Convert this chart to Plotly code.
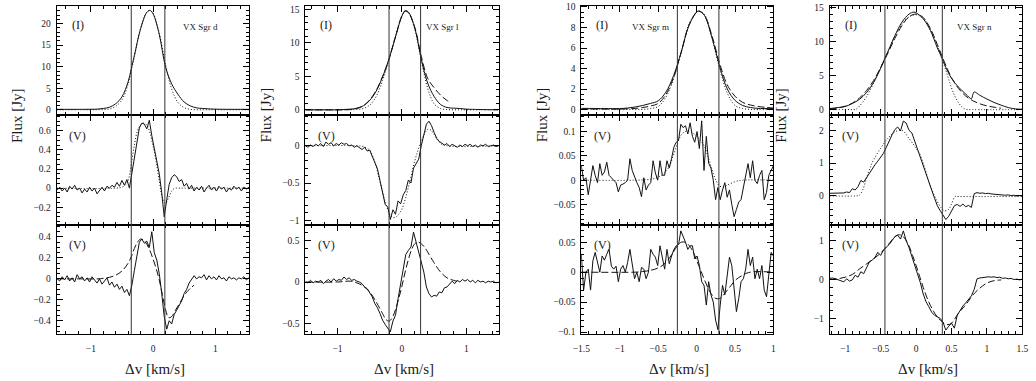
import numpy as np
import plotly.graph_objects as go
from plotly.subplots import make_subplots

# ======================= DATA =======================
# ---------- VX Sgr d ----------
d_vlines = [-0.35, 0.19]
d_I_v = [-1.55, -1.4, -1.2, -1.0, -0.9, -0.8, -0.7, -0.6, -0.5, -0.4, -0.35, -0.3, -0.2, -0.1, -0.05,
         0.0, 0.1, 0.2, 0.3, 0.4, 0.5, 0.6, 0.7, 0.8, 0.9, 1.0, 1.2, 1.4, 1.55]
d_I_obs = [0.1, 0.1, 0.1, 0.12, 0.15, 0.3, 0.6, 1.4, 3.0, 6.5, 9.5, 12.6, 18.8, 22.6, 23.1,
           22.3, 17.5, 10.0, 6.0, 3.6, 1.8, 0.9, 0.45, 0.3, 0.2, 0.15, 0.1, 0.1, 0.1]
d_I_dot = [0, 0, 0, 0, 0, 0.05, 0.2, 0.8, 2.3, 6.0, 9.2, 12.3, 18.9, 22.7, 23.0,
           22.4, 17.8, 10.5, 4.8, 1.7, 0.5, 0.1, 0, 0, 0, 0, 0, 0, 0]
d_chan = np.linspace(-1.54, 1.54, 78)
d_V2_obs = [-0.02, 0.01, -0.03, 0.00, -0.04, 0.02, -0.01, 0.03, -0.02, 0.00,
            -0.05, -0.01, -0.04, 0.01, -0.03, 0.00, -0.06, -0.02, 0.01, -0.03,
            0.02, 0.00, 0.03, 0.01, 0.06, 0.02, 0.08, 0.03, 0.09, 0.00,
            0.17, 0.33, 0.48, 0.63, 0.68, 0.67, 0.62, 0.71, 0.55, 0.42,
            0.30, 0.15, -0.05, -0.30, -0.12, 0.04, 0.11, 0.14, 0.12, 0.07,
            0.09, 0.02, 0.05, -0.01, 0.03, -0.03, 0.01, -0.02, 0.02, -0.04,
            0.00, 0.03, -0.02, 0.01, -0.03, 0.02, -0.01, 0.01, -0.04, 0.00,
            -0.02, 0.02, -0.01, 0.01, -0.03, 0.01, -0.01, 0.01]
d_V2_dot_v = [-1.55, -0.6, -0.5, -0.45, -0.4, -0.35, -0.3, -0.25, -0.2, -0.15, -0.1, -0.05,
              0.0, 0.05, 0.1, 0.15, 0.2, 0.25, 0.3, 0.35, 0.4, 0.5, 1.55]
d_V2_dot = [0, 0, 0.01, 0.03, 0.08, 0.25, 0.45, 0.6, 0.66, 0.68, 0.66, 0.58,
            0.44, 0.28, 0.08, -0.1, -0.16, -0.1, -0.03, 0.0, 0.0, 0.0, 0.0]
d_V3_obs = [0.00, -0.02, 0.02, -0.01, 0.03, -0.02, 0.01, -0.03, 0.04, 0.00,
            0.02, -0.02, 0.01, -0.03, 0.02, -0.01, -0.04, 0.00, -0.05, -0.02,
            0.01, -0.06, -0.03, -0.08, -0.05, -0.10, -0.07, -0.13, -0.10, -0.16,
            -0.06, 0.08, 0.20, 0.35, 0.38, 0.34, 0.36, 0.30, 0.45, 0.25,
            0.18, 0.05, -0.14, -0.36, -0.48, -0.40, -0.43, -0.34, -0.30, -0.26,
            -0.21, -0.14, -0.10, -0.04, -0.01, 0.03, 0.00, 0.02, 0.01, 0.04,
            -0.01, 0.03, 0.00, 0.02, -0.01, 0.03, 0.00, 0.01, -0.02, 0.02,
            0.00, 0.01, -0.01, 0.01, 0.00, 0.02, -0.01, 0.01]
d_V3_dash_v = [-1.55, -1.2, -0.9, -0.8, -0.7, -0.6, -0.5, -0.4, -0.35, -0.3, -0.25, -0.2, -0.15,
               -0.1, -0.05, 0.0, 0.05, 0.1, 0.15, 0.2, 0.25, 0.3, 0.35, 0.4, 0.45, 0.5, 0.55, 0.6, 0.66]
d_V3_dash = [0, 0, 0, 0.005, 0.015, 0.035, 0.075, 0.15, 0.21, 0.29, 0.35, 0.38, 0.37,
             0.33, 0.27, 0.19, 0.1, -0.01, -0.15, -0.29, -0.37, -0.36, -0.31, -0.26, -0.21, -0.16, -0.12, -0.09, -0.06]

# ---------- VX Sgr l ----------
l_vlines = [-0.2, 0.29]
l_I_v = [-1.5, -1.2, -1.0, -0.9, -0.8, -0.7, -0.6, -0.5, -0.4, -0.3, -0.2, -0.1, 0.0, 0.05, 0.1,
         0.2, 0.3, 0.4, 0.5, 0.6, 0.7, 0.8, 0.9, 1.0, 1.2, 1.5]
l_I_obs = [0, 0, 0, 0.05, 0.1, 0.25, 0.6, 1.4, 2.8, 4.9, 7.6, 10.9, 14.0, 14.8, 14.6,
           12.2, 7.6, 4.0, 2.0, 0.8, 0.35, 0.25, 0.2, 0.1, 0.05, 0]
l_I_dot = [0, 0, 0, 0, 0, 0.05, 0.2, 0.7, 2.0, 4.4, 7.5, 11.0, 14.1, 14.7, 14.5,
           12.0, 7.4, 3.2, 0.9, 0.2, 0.05, 0, 0, 0, 0, 0]
l_I_dash_v = [-1.5, -1.0, -0.9, -0.8, -0.7, -0.6, -0.5, -0.4, -0.3, -0.2, -0.1, 0.0, 0.05, 0.1,
              0.2, 0.3, 0.4, 0.5, 0.6, 0.7, 0.74]
l_I_dash = [0, 0, 0, 0.05, 0.2, 0.6, 1.5, 2.9, 5.0, 7.6, 10.9, 14.0, 14.7, 14.5,
            12.3, 8.0, 4.7, 3.3, 2.2, 1.4, 1.2]
l_chan = np.linspace(-1.5, 1.5, 76)
l_V2_obs = [0.00, -0.02, 0.01, -0.01, 0.02, 0.00, 0.03, -0.01, 0.05, 0.02,
            0.04, 0.00, 0.03, 0.01, 0.04, 0.02, 0.03, 0.00, 0.01, -0.02,
            0.00, -0.03, -0.05, -0.02, -0.07, -0.06, -0.14, -0.24, -0.31, -0.47,
            -0.62, -0.79, -0.82, -0.99, -0.86, -0.92, -0.74, -0.78, -0.66, -0.60,
            -0.46, -0.50, -0.30, -0.24, -0.18, 0.00, 0.15, 0.29, 0.33, 0.27,
            0.18, 0.10, 0.06, 0.03, 0.01, 0.03, -0.01, 0.02, 0.00, -0.02,
            0.01, -0.01, 0.02, 0.00, 0.02, -0.01, 0.01, -0.02, 0.01, 0.00,
            0.02, -0.01, 0.00, 0.01, -0.01, 0.00]
l_V2_dot_v = [-1.5, -0.7, -0.6, -0.5, -0.45, -0.4, -0.35, -0.3, -0.25, -0.2, -0.15, -0.1, -0.05,
              0.0, 0.05, 0.1, 0.15, 0.2, 0.25, 0.3, 0.35, 0.4, 0.45, 0.5, 0.55, 0.6, 0.7, 1.5]
l_V2_dot = [0, 0, -0.01, -0.06, -0.15, -0.28, -0.45, -0.62, -0.78, -0.9, -0.96, -0.96, -0.92,
            -0.85, -0.72, -0.56, -0.38, -0.2, -0.06, 0.06, 0.16, 0.22, 0.21, 0.15, 0.08, 0.03, 0.0, 0.0]
l_V3_obs = [0.00, -0.01, 0.02, -0.01, 0.01, 0.00, 0.02, -0.02, 0.01, 0.03,
            0.00, 0.04, 0.01, 0.03, 0.02, 0.06, 0.03, 0.05, 0.02, 0.03,
            0.01, 0.00, -0.02, -0.06, -0.08, -0.13, -0.18, -0.26, -0.31, -0.38,
            -0.46, -0.51, -0.55, -0.60, -0.47, -0.40, -0.20, -0.03, 0.14, 0.33,
            0.38, 0.42, 0.60, 0.48, 0.36, 0.27, 0.12, -0.06, -0.14, -0.18,
            -0.16, -0.17, -0.12, -0.13, -0.07, -0.06, -0.02, 0.01, -0.02, 0.02,
            0.00, 0.03, 0.01, 0.03, 0.00, 0.02, -0.01, 0.02, 0.00, 0.01,
            -0.01, 0.01, 0.00, 0.01, -0.01, 0.00]
l_V3_dash_v = [-1.5, -1.0, -0.8, -0.7, -0.6, -0.5, -0.4, -0.3, -0.25, -0.2, -0.15, -0.1, -0.05,
               0.0, 0.05, 0.1, 0.15, 0.2, 0.25, 0.3, 0.35, 0.4, 0.5, 0.6, 0.7, 0.8, 0.9]
l_V3_dash = [0, 0, 0.01, -0.01, -0.05, -0.12, -0.24, -0.38, -0.45, -0.47, -0.43, -0.33, -0.2,
             -0.05, 0.12, 0.27, 0.39, 0.46, 0.48, 0.46, 0.42, 0.36, 0.23, 0.12, 0.05, 0.02, 0.0]

# ---------- VX Sgr m ----------
m_vlines = [-0.25, 0.29]
m_I_v = [-1.5, -1.2, -1.0, -0.9, -0.8, -0.7, -0.6, -0.5, -0.4, -0.3, -0.2, -0.1, 0.0, 0.03, 0.1,
         0.2, 0.3, 0.4, 0.5, 0.6, 0.7, 0.8, 1.0]
m_I_obs = [0.12, 0.1, 0.1, 0.15, 0.25, 0.4, 0.6, 0.85, 1.7, 3.3, 5.6, 8.2, 9.5, 9.6, 9.2,
           7.0, 4.2, 2.0, 0.9, 0.4, 0.2, 0.12, 0.1]
m_I_dash = [0.05, 0.05, 0.05, 0.08, 0.12, 0.2, 0.35, 0.6, 1.45, 3.1, 5.6, 8.2, 9.5, 9.6, 9.2,
            7.2, 4.5, 2.4, 1.3, 0.7, 0.45, 0.3, 0.15]
m_I_dot = [0, 0, 0, 0, 0, 0.02, 0.1, 0.3, 1.2, 3.0, 5.6, 8.3, 9.5, 9.6, 9.3,
           7.0, 4.0, 1.6, 0.4, 0.1, 0.02, 0, 0]
m_chan = np.linspace(-1.5, 1.0, 84)
m_V2_obs = [0.03, 0.0, 0.005, -0.03, 0.0, 0.03, 0.01, -0.005, 0.034, 0.01,
            0.017, 0.037, 0.01, 0.005, 0.0, -0.005, -0.024, -0.01, -0.008, -0.005,
            0.0, 0.044, 0.02, 0.005, -0.005, -0.015, -0.034, 0.005, -0.02, -0.01,
            -0.005, 0.04, 0.015, 0.0, 0.04, 0.01, 0.01, 0.04, 0.025, 0.045,
            0.068, 0.078, 0.082, 0.115, 0.108, 0.112, 0.095, 0.118, 0.09, 0.078,
            0.1, 0.065, 0.122, 0.02, 0.09, 0.035, 0.025, 0.0, -0.04, -0.015,
            -0.04, -0.02, -0.005, -0.035, -0.02, -0.05, -0.075, -0.06, -0.045, -0.04,
            -0.015, 0.01, 0.034, 0.005, 0.04, 0.0, -0.007, 0.01, 0.02, -0.04,
            -0.025, 0.01, 0.02, 0.03]
m_V2_dot_v = [-1.5, -0.8, -0.6, -0.5, -0.4, -0.35, -0.3, -0.25, -0.2, -0.15, -0.1, -0.05,
              0.0, 0.05, 0.1, 0.15, 0.2, 0.25, 0.3, 0.35, 0.4, 0.5, 0.6, 1.0]
m_V2_dot = [0, 0, 0.002, 0.006, 0.018, 0.03, 0.052, 0.075, 0.093, 0.1, 0.101, 0.097,
            0.09, 0.082, 0.07, 0.048, 0.022, 0.0, -0.012, -0.014, -0.01, -0.003, 0, 0]
m_V3_obs = [0.03, -0.03, 0.0, 0.005, -0.03, 0.019, 0.033, 0.015, 0.0, 0.027,
            0.02, 0.03, 0.038, 0.01, 0.005, 0.01, -0.016, 0.005, 0.011, 0.0,
            0.016, 0.038, 0.011, -0.011, 0.0, -0.016, 0.008, 0.005, -0.011, 0.0,
            0.038, 0.03, 0.025, 0.011, 0.044, 0.022, 0.005, 0.038, 0.014, 0.027,
            0.038, 0.044, 0.046, 0.069, 0.06, 0.05, 0.038, 0.044, 0.044, 0.022,
            0.027, 0.011, -0.016, -0.022, -0.055, -0.016, -0.038, -0.05, -0.08, -0.096,
            -0.055, -0.022, -0.038, -0.005, 0.025, 0.011, -0.027, -0.066, -0.044, -0.016,
            -0.011, 0.005, 0.038, 0.011, 0.025, -0.011, 0.005, -0.011, 0.011, -0.03,
            -0.041, -0.005, 0.033, 0.027]
m_V3_dash_v = [-1.5, -0.8, -0.7, -0.6, -0.5, -0.4, -0.3, -0.25, -0.2, -0.15, -0.1, -0.05,
               0.0, 0.05, 0.1, 0.15, 0.2, 0.25, 0.3, 0.35, 0.4, 0.45, 0.5, 0.6, 0.7, 1.0]
m_V3_dash = [0, 0, 0.001, 0.003, 0.007, 0.016, 0.034, 0.044, 0.05, 0.05, 0.045, 0.035,
             0.02, 0.004, -0.012, -0.027, -0.038, -0.044, -0.044, -0.038, -0.03, -0.022, -0.014, -0.005, 0, 0]

# ---------- VX Sgr n ----------
n_vlines = [-0.44, 0.37]
n_I_v = [-1.22, -1.1, -1.0, -0.9, -0.8, -0.7, -0.6, -0.5, -0.44, -0.4, -0.3, -0.2, -0.1, -0.03,
         0.0, 0.1, 0.2, 0.3, 0.37, 0.4, 0.5, 0.6, 0.7, 0.78, 0.8, 0.82, 0.9, 1.0, 1.1, 1.2, 1.3, 1.4, 1.5]
n_I_obs = [0.15, 0.3, 0.45, 0.9, 1.5, 2.5, 4.0, 6.1, 7.6, 8.5, 10.9, 12.9, 14.1, 14.4,
           14.3, 13.4, 11.7, 9.1, 7.5, 6.7, 4.6, 3.3, 2.3, 1.6, 2.2, 2.6, 2.1, 1.55, 1.05, 0.65, 0.3, 0.1, 0.05]
n_I_dash_v = [-1.22, -1.1, -1.0, -0.9, -0.8, -0.7, -0.6, -0.5, -0.4, -0.3, -0.2, -0.1, 0.0,
              0.1, 0.2, 0.3, 0.4, 0.5, 0.6, 0.7, 0.8, 0.9, 1.0, 1.1, 1.2]
n_I_dash = [0.1, 0.25, 0.5, 0.95, 1.7, 2.8, 4.3, 6.2, 8.3, 10.5, 12.4, 13.7, 14.1,
            13.6, 12.0, 9.6, 7.0, 4.7, 3.1, 2.0, 1.3, 0.85, 0.55, 0.35, 0.2]
n_I_dot_v = [-1.22, -1.0, -0.9, -0.85, -0.8, -0.7, -0.6, -0.5, -0.4, -0.3, -0.2, -0.1, 0.0,
             0.1, 0.2, 0.3, 0.4, 0.5, 0.55, 0.6, 0.65, 0.7, 0.8, 1.5]
n_I_dot = [0, 0, 0, 0.05, 0.5, 1.9, 3.9, 6.2, 8.5, 10.8, 12.6, 13.7, 14.0,
           13.5, 11.9, 9.4, 6.4, 3.2, 1.9, 1.0, 0.35, 0.05, 0, 0]
n_chan = np.linspace(-1.22, 1.5, 69)
n_V2_obs = [0.08, 0.08, 0.07, 0.08, 0.07, 0.09, 0.12, 0.10, 0.22, 0.18,
            0.28, 0.47, 0.42, 0.56, 0.70, 0.82, 0.95, 1.06, 1.18, 1.30,
            1.48, 1.70, 1.86, 2.02, 2.10, 1.98, 2.28, 2.22, 2.00, 1.92,
            1.68, 1.43, 1.20, 0.95, 0.68, 0.43, 0.18, -0.07, -0.30, -0.45,
            -0.60, -0.72, -0.62, -0.44, -0.30, -0.26, -0.32, -0.25, -0.33, -0.29,
            -0.35, 0.07, 0.10, 0.08, 0.09, 0.07, 0.08, 0.06, 0.05, 0.04,
            0.05, 0.03, 0.02, 0.03, 0.01, 0.02, 0.00, 0.01, 0.00]
n_V2_dot_v = [-1.22, -0.85, -0.8, -0.75, -0.7, -0.65, -0.6, -0.5, -0.4, -0.3, -0.2, -0.1, 0.0,
              0.05, 0.1, 0.15, 0.2, 0.25, 0.3, 0.35, 0.4, 0.45, 0.5, 0.55, 0.6, 1.5]
n_V2_dot = [0, 0, 0.02, 0.2, 0.55, 0.85, 1.1, 1.45, 1.75, 1.95, 2.0, 1.75, 1.45,
            1.28, 1.0, 0.65, 0.3, 0.05, -0.18, -0.35, -0.45, -0.43, -0.25, -0.02, -0.02, -0.02]
n_V3_obs = [0.03, 0.04, 0.02, 0.00, -0.03, -0.06, 0.02, -0.04, -0.01, 0.11,
            0.06, 0.20, 0.15, 0.30, 0.45, 0.50, 0.57, 0.70, 0.62, 0.76,
            0.82, 0.90, 1.00, 1.10, 1.14, 1.04, 1.25, 1.00, 0.82, 0.60,
            0.38, 0.12, -0.08, -0.37, -0.57, -0.70, -0.84, -0.92, -0.97, -1.00,
            -1.10, -1.30, -1.20, -1.12, -1.25, -0.92, -0.80, -0.68, -0.60, -0.50,
            -0.42, -0.25, 0.02, 0.04, 0.05, 0.06, 0.07, 0.06, 0.07, 0.05,
            0.06, 0.03, 0.04, 0.02, 0.03, 0.00, 0.01, -0.01, 0.01]
n_V3_dash_v = [-1.22, -1.1, -1.0, -0.9, -0.8, -0.7, -0.6, -0.5, -0.4, -0.3, -0.25, -0.2, -0.15,
               -0.1, -0.05, 0.0, 0.05, 0.1, 0.15, 0.2, 0.25, 0.3, 0.35, 0.4, 0.45, 0.5,
               0.6, 0.7, 0.8, 0.9, 1.0, 1.1, 1.2]
n_V3_dash = [0.0, 0.02, 0.06, 0.13, 0.27, 0.4, 0.53, 0.68, 0.88, 1.1, 1.15, 1.13, 1.03,
             0.86, 0.62, 0.36, 0.08, -0.2, -0.45, -0.66, -0.83, -0.96, -1.06, -1.13, -1.16, -1.12,
             -0.86, -0.65, -0.4, -0.22, -0.09, -0.03, -0.01]

names = ["VX Sgr d", "VX Sgr l", "VX Sgr m", "VX Sgr n"]
x_label = "\u0394v [km/s]"
y_label = "Flux [Jy]"

# ======================= LAYOUT =======================
W, H = 1036, 381
col_px = [(48.3, 244.0), (300.7, 496.7), (580.7, 775.7), (832.7, 1028.3)]
row_px = [(3.0, 113.3), (113.3, 226.0), (226.0, 336.7)]
x_ranges = [[-1.55, 1.55], [-1.5, 1.5], [-1.5, 1.0], [-1.22, 1.5]]
x_dt = [(1, 0.2), (1, 0.2), (0.5, 0.1), (0.5, 0.1)]
y_ranges = [
    [[-1.1, 24.1], [-0.7, 15.5], [-0.48, 10.1], [-0.73, 15.3]],
    [[-0.39, 0.77], [-1.07, 0.42], [-0.093, 0.135], [-0.9, 2.48]],
    [[-0.53, 0.51], [-0.63, 0.68], [-0.104, 0.078], [-1.41, 1.39]],
]
y_dt = [
    [(5, 1), (5, 1), (2, 0.5), (5, 1)],
    [(0.2, 0.05), (0.5, 0.1), (0.05, 0.01), (1, 0.2)],
    [(0.2, 0.05), (0.5, 0.1), (0.05, 0.01), (1, 0.2)],
]

FONT = "Liberation Serif"
INK = "#111111"
TXT = "#1a1a1a"

fig = make_subplots(rows=3, cols=4)


def px_x(p):
    return p / W


def px_y(p):
    return 1 - p / H


def line(x, y, r, c, style, shape="linear"):
    dash = {"solid": "solid", "dot": "1px,2px", "dash": "7px,3px"}[style]
    fig.add_trace(go.Scatter(x=list(x), y=y, mode="lines",
                             line=dict(color=INK, width=1, dash=dash, shape=shape),
                             hoverinfo="skip", showlegend=False), row=r, col=c)


# Column d
line(d_I_v, d_I_dot, 1, 1, "dot", "spline")
line(d_I_v, d_I_obs, 1, 1, "solid", "spline")
line(d_V2_dot_v, d_V2_dot, 2, 1, "dot", "spline")
line(d_chan, d_V2_obs, 2, 1, "solid")
line(d_V3_dash_v, d_V3_dash, 3, 1, "dash", "spline")
line(d_chan, d_V3_obs, 3, 1, "solid")
# Column l
line(l_I_v, l_I_dot, 1, 2, "dot", "spline")
line(l_I_dash_v, l_I_dash, 1, 2, "dash", "spline")
line(l_I_v, l_I_obs, 1, 2, "solid", "spline")
line(l_V2_dot_v, l_V2_dot, 2, 2, "dot", "spline")
line(l_chan, l_V2_obs, 2, 2, "solid")
line(l_V3_dash_v, l_V3_dash, 3, 2, "dash", "spline")
line(l_chan, l_V3_obs, 3, 2, "solid")
# Column m
line(m_I_v, m_I_dot, 1, 3, "dot", "spline")
line(m_I_v, m_I_dash, 1, 3, "dash", "spline")
line(m_I_v, m_I_obs, 1, 3, "solid", "spline")
line(m_V2_dot_v, m_V2_dot, 2, 3, "dot", "spline")
line(m_chan, m_V2_obs, 2, 3, "solid")
line(m_V3_dash_v, m_V3_dash, 3, 3, "dash", "spline")
line(m_chan, m_V3_obs, 3, 3, "solid")
# Column n
line(n_I_dot_v, n_I_dot, 1, 4, "dot", "spline")
line(n_I_dash_v, n_I_dash, 1, 4, "dash", "spline")
line(n_I_v, n_I_obs, 1, 4, "solid", "spline")
line(n_V2_dot_v, n_V2_dot, 2, 4, "dot", "spline")
line(n_chan, n_V2_obs, 2, 4, "solid")
line(n_V3_dash_v, n_V3_dash, 3, 4, "dash", "spline")
line(n_chan, n_V3_obs, 3, 4, "solid")

tickfont = dict(family=FONT, size=9.5, color=TXT)
common = dict(showline=True, linecolor="black", linewidth=1, mirror="ticks",
              ticks="inside", ticklen=6, tickwidth=1, tickcolor="black",
              showgrid=False, zeroline=False, tickfont=tickfont)

for r in range(3):
    for c in range(4):
        x0, x1 = col_px[c]
        ytop, ybot = row_px[r]
        fig.update_xaxes(domain=[px_x(x0), px_x(x1)], range=x_ranges[c],
                         dtick=x_dt[c][0], tick0=0, showticklabels=(r == 2),
                         ticklabelstandoff=5,
                         minor=dict(dtick=x_dt[c][1], tick0=0, ticks="inside", ticklen=3,
                                    tickwidth=1, tickcolor="black", showgrid=False),
                         row=r + 1, col=c + 1, **common)
        fig.update_yaxes(domain=[px_y(ybot), px_y(ytop)], range=y_ranges[r][c],
                         dtick=y_dt[r][c][0], tick0=0, ticklabelstandoff=3,
                         minor=dict(dtick=y_dt[r][c][1], tick0=0, ticks="inside", ticklen=3,
                                    tickwidth=1, tickcolor="black", showgrid=False),
                         row=r + 1, col=c + 1, **common)

# vertical reference lines through all three panels of each column
all_vlines = [d_vlines, l_vlines, m_vlines, n_vlines]
for c, vl in enumerate(all_vlines):
    for v in vl:
        fig.add_shape(type="line", xref=f"x{c + 1}", yref="paper", x0=v, x1=v,
                      y0=px_y(row_px[2][1]), y1=px_y(row_px[0][0]),
                      line=dict(color="#333333", width=1), layer="above")

annotations = []
panel_lab_x = [70, 322, 602, 854]
name_x = [194, 440, 651, 980]
ylab_x = [8, 261, 541, 784]
for c in range(4):
    for text, yy in (("(I)", 22), ("(V)", 135), ("(V)", 246)):
        annotations.append(dict(xref="paper", yref="paper", x=px_x(panel_lab_x[c]), y=px_y(yy),
                                text=text, showarrow=False, xanchor="center", yanchor="middle",
                                font=dict(family=FONT, size=12, color=TXT)))
    annotations.append(dict(xref="paper", yref="paper", x=px_x(name_x[c]), y=px_y(24),
                            text=names[c], showarrow=False, xanchor="center", yanchor="middle",
                            font=dict(family=FONT, size=9, color=TXT)))
    annotations.append(dict(xref="paper", yref="paper", x=px_x(ylab_x[c]), y=px_y(114),
                            text=y_label, showarrow=False, textangle=-90,
                            xanchor="center", yanchor="middle",
                            font=dict(family=FONT, size=15, color=TXT)))
    annotations.append(dict(xref="paper", yref="paper",
                            x=px_x((col_px[c][0] + col_px[c][1]) / 2 + 2), y=px_y(372),
                            text=x_label, showarrow=False, xanchor="center", yanchor="middle",
                            font=dict(family=FONT, size=15, color=TXT)))

fig.update_layout(width=W, height=H, autosize=False,
                  margin=dict(l=0, r=0, t=0, b=0),
                  paper_bgcolor="white", plot_bgcolor="white",
                  showlegend=False, annotations=annotations)

fig.write_html("out.html", config={"displayModeBar": False},
               post_script="document.body.style.margin='0px';")
